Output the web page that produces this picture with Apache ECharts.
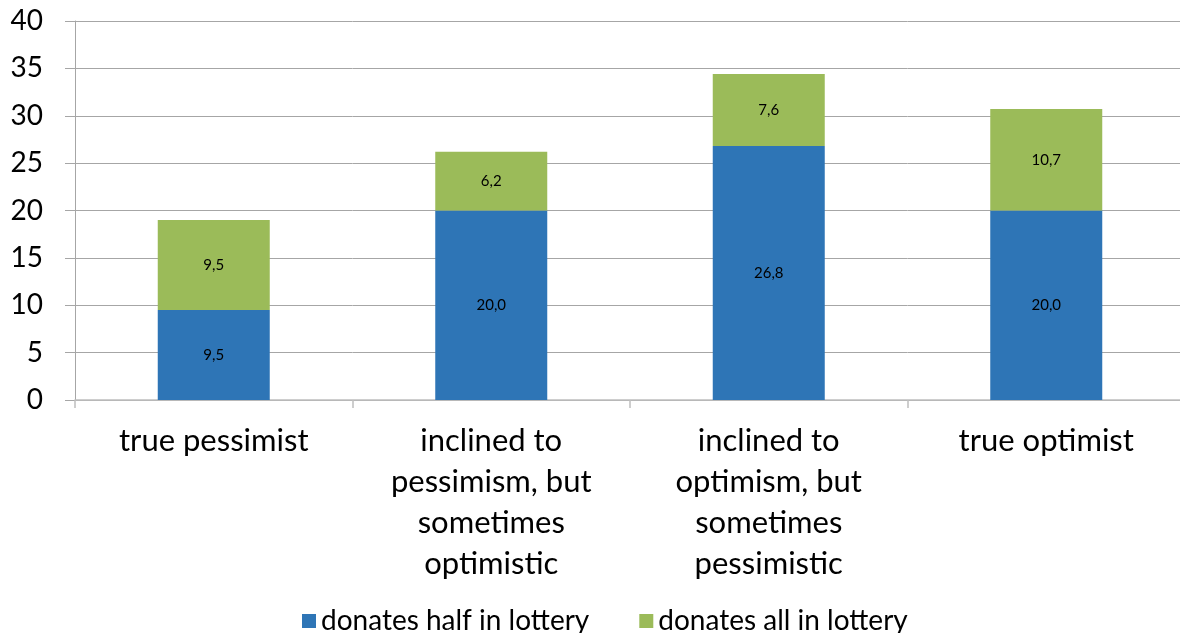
<!DOCTYPE html>
<html>
<head>
<meta charset="utf-8">
<script src="https://cdn.jsdelivr.net/npm/echarts@6/dist/echarts.min.js"></script>
<style>
html,body{margin:0;padding:0;background:#fff;overflow:hidden;width:1180px;height:633px;}
#chart{width:1186px;height:633px;}
</style>
</head>
<body>
<div id="chart"></div>
<script>
const categories = [
  'true pessimist',
  'inclined to\npessimism, but\nsometimes\noptimistic',
  'inclined to\noptimism, but\nsometimes\npessimistic',
  'true optimist'
];
const seriesNames = ['donates half in lottery', 'donates all in lottery'];
const halfValues = [9.5, 20.0, 26.8, 20.0];
const allValues = [9.5, 6.2, 7.6, 10.7];
const yTicks = { min: 0, max: 40, interval: 5 };

const FONT = 'Lato, "Open Sans", sans-serif';
const fmt = p => p.value.toFixed(1).replace('.', ',');

const chart = echarts.init(document.getElementById('chart'), null, { renderer: 'canvas' });
chart.setOption({
  animation: false,
  backgroundColor: '#ffffff',
  textStyle: { fontFamily: FONT },
  grid: { left: 75, top: 21, right: 1, height: 379, containLabel: false },
  legend: {
    top: 602,
    left: 297,
    itemWidth: 14,
    itemHeight: 14,
    itemGap: 50,
    icon: 'rect',
    textStyle: { fontFamily: FONT, fontSize: 28, color: '#000' },
    data: seriesNames
  },
  xAxis: {
    type: 'category',
    data: categories,
    axisLine: { show: true, lineStyle: { color: '#bfbfbf', width: 1.5 } },
    axisTick: { show: true, length: 8, lineStyle: { color: '#bfbfbf', width: 1.5 }, alignWithLabel: false },
    axisLabel: { fontFamily: FONT, fontSize: 31, color: '#000', lineHeight: 41, margin: 20, interval: 0 }
  },
  yAxis: {
    type: 'value',
    min: yTicks.min,
    max: yTicks.max,
    interval: yTicks.interval,
    axisLine: { show: true, lineStyle: { color: '#a6a6a6', width: 1 } },
    axisTick: { show: true, length: 10, lineStyle: { color: '#a6a6a6' } },
    axisLabel: { fontFamily: FONT, fontSize: 28, color: '#000', margin: 32 },
    splitLine: { show: true, lineStyle: { color: '#a6a6a6', width: 1 } }
  },
  series: [
    {
      name: seriesNames[0],
      type: 'bar',
      stack: 'total',
      data: halfValues,
      barWidth: 112,
      itemStyle: { color: '#2e75b6' },
      label: { show: true, position: 'inside', formatter: fmt, fontFamily: FONT, fontSize: 15, color: '#000' }
    },
    {
      name: seriesNames[1],
      type: 'bar',
      stack: 'total',
      data: allValues,
      barWidth: 112,
      itemStyle: { color: '#9bbb59' },
      label: { show: true, position: 'inside', formatter: fmt, fontFamily: FONT, fontSize: 15, color: '#000' }
    }
  ]
});
</script>
</body>
</html>
